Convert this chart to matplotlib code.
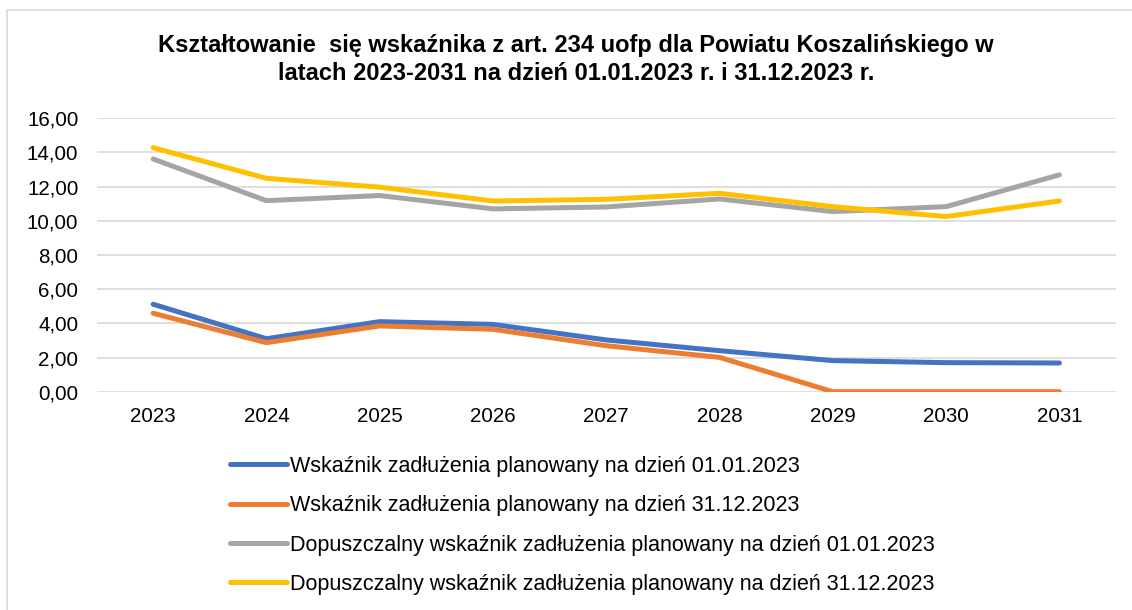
import numpy as np
import matplotlib
matplotlib.use("Agg")
import matplotlib.pyplot as plt
from matplotlib.patches import Rectangle

plt.rcParams['font.family'] = ['Liberation Sans', 'DejaVu Sans']

# dane
years = ['2023', '2024', '2025', '2026', '2027', '2028', '2029', '2030', '2031']
wsk_0101 = [5.12, 3.10, 4.10, 3.94, 3.03, 2.40, 1.82, 1.70, 1.68]
wsk_3112 = [4.59, 2.87, 3.85, 3.65, 2.69, 2.01, 0.00, 0.00, 0.00]
dop_0101 = [13.62, 11.18, 11.48, 10.70, 10.81, 11.28, 10.54, 10.83, 12.69]
dop_3112 = [14.28, 12.49, 11.97, 11.16, 11.26, 11.61, 10.83, 10.25, 11.16]

labels = [
    'Wskaźnik zadłużenia planowany na dzień 01.01.2023',
    'Wskaźnik zadłużenia planowany na dzień 31.12.2023',
    'Dopuszczalny wskaźnik zadłużenia planowany na dzień 01.01.2023',
    'Dopuszczalny wskaźnik zadłużenia planowany na dzień 31.12.2023',
]
colors = ['#4472C4', '#ED7D31', '#A5A5A5', '#FFC000']
title_lines = ['Kształtowanie  się wskaźnika z art. 234 uofp dla Powiatu Koszalińskiego w',
               'latach 2023-2031 na dzień 01.01.2023 r. i 31.12.2023 r.']

W, H = 1132, 610
fig = plt.figure(figsize=(W / 100, H / 100), dpi=100)

# ramka obszaru wykresu (prawa i dolna krawędź poza obrazem)
fig.patches.append(Rectangle((7 / W, -0.1), 1.2, 1 - 10 / H + 0.1, transform=fig.transFigure,
                             fill=False, edgecolor='#D9D9D9', linewidth=1.2))

ax = fig.add_axes([96.5 / W, 1 - 391.7 / H, (1116 - 96.5) / W, (391.7 - 118.3) / H])
x = np.arange(len(years))
series = [wsk_0101, wsk_3112, dop_0101, dop_3112]
for s, c, l in zip(series, colors, labels):
    ax.plot(x, s, color=c, linewidth=3.6, solid_capstyle='round', solid_joinstyle='round', label=l)

ax.set_xlim(-0.5, 8.5)
ax.set_ylim(0, 16)
ax.set_yticks(np.arange(0, 17, 2))
ax.set_yticklabels([f'{v:.2f}'.replace('.', ',') for v in np.arange(0, 17, 2)])
ax.set_xticks(x)
ax.set_xticklabels(years)
ax.tick_params(axis='both', length=0, labelsize=14.8, colors='#000000')
ax.tick_params(axis='y', pad=13)
ax.tick_params(axis='x', pad=11)
ax.grid(axis='y', color='#D9D9D9', linewidth=1.2)
ax.set_axisbelow(True)
for sp in ax.spines.values():
    sp.set_visible(False)

# tytuł w dwóch liniach
for t, yb in zip(title_lines, [52, 80]):
    fig.text(576 / W, 1 - yb / H, t, ha='center', va='baseline', fontsize=17, fontweight='bold')

handles, labs = ax.get_legend_handles_labels()
fig.legend(handles, labs, loc='upper left', bbox_to_anchor=(230 / W, 1 - 456 / H),
           frameon=False, fontsize=15.5, handlelength=2.65, handletextpad=0.15,
           labelspacing=0.85, borderpad=0, borderaxespad=0)

fig.savefig('out.png', dpi=100, facecolor='white')
